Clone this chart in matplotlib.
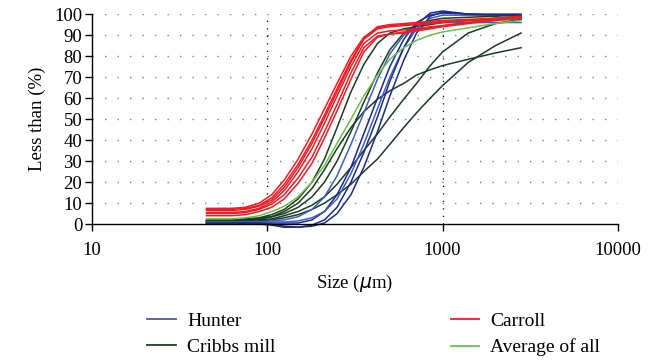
import matplotlib
matplotlib.use("Agg")
import matplotlib.pyplot as plt
from matplotlib.lines import Line2D

sizes = [45, 63, 75, 90, 106, 125, 150, 180, 212, 250, 300, 355, 425, 500,
         600, 710, 850, 1000, 1400, 2000, 2800]

hunter = [
    [1, 1, 1, 1, 1.5, 2, 3.5, 7, 13, 23, 38, 53, 69, 81, 90, 94.5, 96, 96, 96, 96, 96],
    [0.5, 0.5, 0.5, 0.5, 0.5, 0.5, 0.5, 2, 6, 14, 27, 43, 60, 75, 88, 96, 99.5, 100.5, 100, 99.5, 99.5],
    [1, 1, 1, 1, 1, 1, 1.5, 3, 6, 12, 24, 38, 55, 70, 84, 93, 98, 99.5, 99.5, 99.5, 99.5],
    [0.5, 0.5, 0.5, 0, -0.5, -1.5, -1.5, -0.5, 2, 8, 20, 34, 51, 68, 84, 95, 100.5, 101.5, 100, 100, 100],
    [0.5, 0.5, 0.5, 0.5, 0, -1, -1.5, -1, 0.5, 5, 14, 27, 44, 61, 78, 91, 99, 101, 100, 99.5, 99.5],
]
hunter_colors = ["#3f5fc4", "#1c2a8c", "#3f5fc4", "#1c2a8c", "#1c2a8c"]

carroll = [
    [7.5, 7.5, 8, 10, 14, 21, 31, 43, 55, 67, 80, 89, 93.5, 94.5, 95, 95.5, 96, 96.5, 97, 98, 98.5],
    [7, 7, 7.5, 9, 12.5, 19, 28.5, 40, 52, 64.5, 78, 88.5, 94, 95, 95.5, 96, 96.5, 97, 97.5, 98, 99],
    [5.5, 5.5, 6, 7.5, 10.5, 16, 25, 36, 48, 61, 75, 86, 91, 92, 92.5, 93, 94, 94.5, 96, 97, 98],
    [5, 5, 5.5, 7, 9.5, 14, 22, 32, 44, 57, 72, 84, 89.5, 90.5, 91, 92, 93, 94, 95.5, 97, 98],
    [4, 4, 4.5, 6, 8, 12, 19.5, 29, 41, 54, 69, 82, 89, 90.5, 91.5, 92.5, 93.5, 94.5, 96, 97.5, 98.5],
    [6.5, 6.5, 7, 8.5, 11.5, 17.5, 27, 38.5, 50.5, 63, 77, 88, 93, 94, 94.5, 95, 95.5, 96, 97, 97.5, 98.5],
]

cribbs = [
    [2, 2, 2.5, 3, 4.5, 7, 12, 20, 31, 46, 63, 76, 86, 91, 93, 94, 95, 96, 97, 98, 99],
    [1.5, 1.5, 2, 2.5, 3.5, 5, 8, 13, 20, 30, 44, 58, 72, 83, 91, 95, 97, 98, 98.5, 99, 99.5],
    [1, 1, 1.5, 2, 2.5, 4, 6, 9, 13, 19, 27, 35, 43, 51, 59.5, 67, 75.5, 82, 91, 95.5, 97.5],
    [1.5, 1.5, 2, 2.5, 3.5, 6, 10, 17, 26, 36, 46, 53.5, 59.5, 63.5, 67, 71, 73.5, 75.5, 78.5, 81.5, 84],
    [1, 1, 1, 1.5, 2, 3, 4.5, 7, 10, 14, 19, 25, 31, 38, 46, 53, 60, 66, 77, 85, 91],
]

average = [2.5, 2.5, 3, 4, 6, 8.5, 13, 20, 28, 38.5, 50, 61, 71, 78.5, 84, 87.5, 90, 91.5, 93.5, 95.5, 97]

C_RED = "#ee1c24"
C_DKG = "#1a3d20"
C_LTG = "#6cc04a"
C_LEG_BLUE = "#4a56a8"

serif = ["Liberation Serif", "DejaVu Serif"]
plt.rcParams["font.family"] = serif

fig = plt.figure(figsize=(6.56, 3.62), dpi=100)
ax = fig.add_axes([0.1402, 0.381, 0.8018, 0.580])

lw = 1.1
for ys in cribbs:
    ax.plot(sizes, ys, color=C_DKG, lw=lw, clip_on=False)
for ys, c in zip(hunter, hunter_colors):
    ax.plot(sizes, ys, color=c, lw=lw, clip_on=False)
for ys in carroll:
    ax.plot(sizes, ys, color=C_RED, lw=lw, clip_on=False)
ax.plot(sizes, average, color=C_LTG, lw=lw, clip_on=False)

ax.set_xscale("log")
ax.set_xlim(10, 10000)
ax.set_ylim(0, 100)
ax.set_yticks(range(0, 101, 10))
ax.set_xticks([10, 100, 1000, 10000])
ax.set_xticklabels(["10", "100", "1000", "10000"])
ax.minorticks_off()

for y in range(10, 101, 10):
    ax.axhline(y, color="#808080", lw=1.0, ls=(0, (1, 8)), zorder=0)
for x in [100, 1000]:
    ax.axvline(x, color="black", lw=0.9, ls=(0, (1, 5)), zorder=0)

for s in ["top", "right"]:
    ax.spines[s].set_visible(False)
ax.spines["left"].set_linewidth(1.0)
ax.spines["bottom"].set_linewidth(1.0)
ax.tick_params(axis="both", labelsize=13.5, direction="out", length=5, width=1.0, colors="black")
ax.tick_params(axis="x", pad=8)
ax.tick_params(axis="y", pad=2)

ax.set_ylabel("Less than (%)", fontsize=13.5, labelpad=6)
ax.set_xlabel("Size ($\\mu$m)", fontsize=13.5, labelpad=10)

handles = [
    Line2D([], [], color=C_LEG_BLUE, lw=1.3),
    Line2D([], [], color=C_DKG, lw=1.3),
    Line2D([], [], color=C_RED, lw=1.3),
    Line2D([], [], color=C_LTG, lw=1.3),
]
labels = ["Hunter", "Cribbs mill", "Carroll", "Average of all"]
fig.legend(handles, labels, ncol=2, loc="center left", bbox_to_anchor=(0.198, 0.076),
           frameon=False, fontsize=14, handlelength=1.45, columnspacing=9.0,
           labelspacing=0.42, handletextpad=0.6)

fig.savefig("out.png", dpi=100)
